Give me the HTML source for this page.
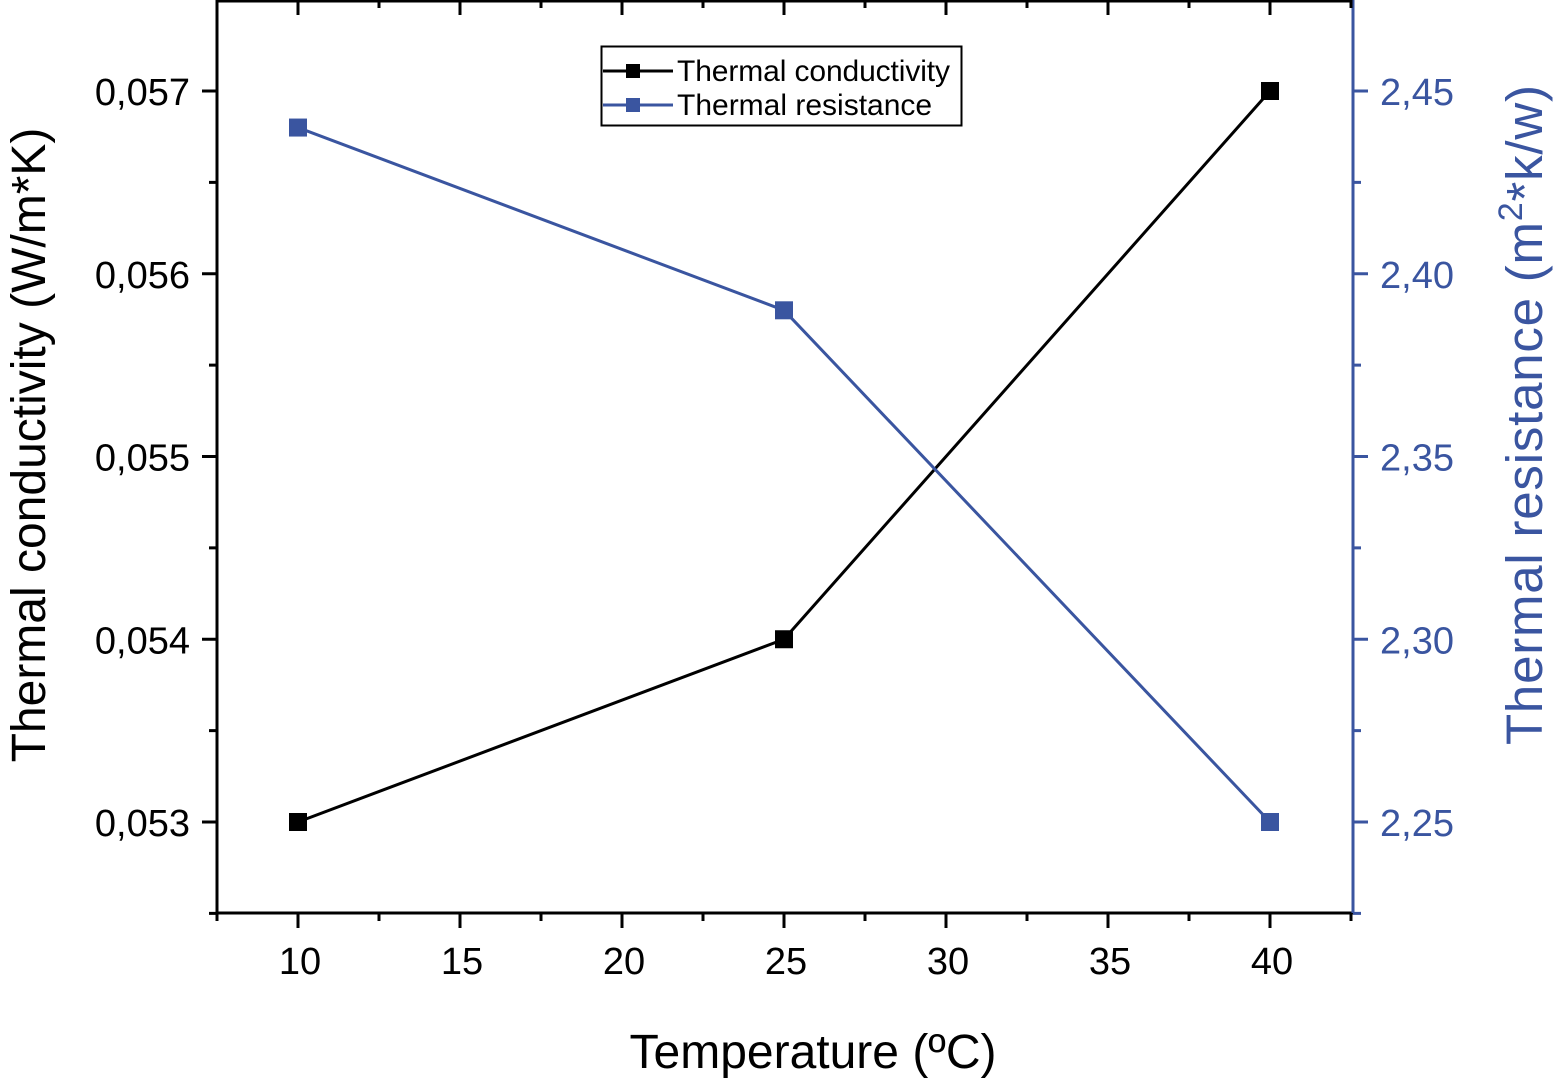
<!DOCTYPE html>
<html><head><meta charset="utf-8"><style>
body{margin:0;background:#fff}
svg{display:block;font-family:"Liberation Sans",Arial,sans-serif}
</style></head><body>
<svg id="chart" width="1553" height="1078" viewBox="0 0 1553 1078" xmlns="http://www.w3.org/2000/svg">
<g id="axes"></g>
<g id="series"></g>
<text x="813" y="1068" font-size="48" text-anchor="middle">Temperature (ºC)</text>
<text transform="translate(45,445) rotate(-90)" font-size="48" text-anchor="middle">Thermal conductivity (W/m*K)</text>
<text transform="translate(1542,415) rotate(-90)" font-size="51" text-anchor="middle" fill="#3a55a0" textLength="660">Thermal resistance (m<tspan font-size="34" dy="-20">2</tspan><tspan dy="20">*k/w)</tspan></text>
<g>
<rect x="601.5" y="46.5" width="360" height="79" fill="#fff" stroke="#000" stroke-width="2"/>
<line x1="603" y1="71" x2="673" y2="71" stroke="#000" stroke-width="3"/>
<rect x="626" y="64" width="14" height="14" fill="#000"/>
<text x="677" y="81" font-size="30" textLength="273">Thermal conductivity</text>
<line x1="603" y1="105" x2="673" y2="105" stroke="#3a55a0" stroke-width="3"/>
<rect x="626" y="98" width="14" height="14" fill="#3a55a0"/>
<text x="677" y="115" font-size="30">Thermal resistance</text>
</g>
</svg>
<script>
const temps=[10,25,40];
const conductivity=[0.053,0.054,0.057];
const resistance=[2.44,2.39,2.25];
const xTicks=[10,15,20,25,30,35,40];
const yLeftTicks=[0.053,0.054,0.055,0.056,0.057];
const yRightTicks=[2.25,2.30,2.35,2.40,2.45];
const NS="http://www.w3.org/2000/svg";
const L=217,R=1353,T=0,B=913;
const xs=v=>298+(v-10)*(1270-298)/30;
const yl=v=>822-(v-0.053)*(822-91)/0.004;
const yr=v=>822-(v-2.25)*(822-91)/0.2;
const BLUE="#3a55a0";
const axes=document.getElementById('axes'),ser=document.getElementById('series');
function mk(tag,attrs,parent){const e=document.createElementNS(NS,tag);for(const k in attrs)e.setAttribute(k,attrs[k]);parent.appendChild(e);return e;}
function line(x1,y1,x2,y2,c,w,p){return mk('line',{x1,y1,x2,y2,stroke:c,'stroke-width':w},p);}
let e;
e=line(L,B,R,B,'#000',3,axes);
e=line(L,T+1,R,T+1,'#000',3,axes);
e=line(L,T,L,B,'#000',3,axes);
e=line(R,T,R,B,BLUE,3,axes);
for(let v=7.5;v<=42.5;v+=2.5){const x=xs(v);const major=Math.abs(v%5)<1e-6;
 line(x,B,x,B+(major?15:8),'#000',3,axes);line(x,T,x,T+(major?15:8),'#000',3,axes);}
xTicks.forEach(v=>{e=mk('text',{x:xs(v)+2,y:974,'font-size':38,'text-anchor':'middle'},axes);e.textContent=v;
 });
for(let i=0;i<=10;i++){const v=0.0525+i*0.0005;const y=yl(v);if(y<T)continue;const major=i%2==1;
 line(L,y,L-(major?15:8),y,'#000',3,axes);}
yLeftTicks.forEach(v=>{e=mk('text',{x:190,y:yl(v)+14,'font-size':38,'text-anchor':'end'},axes);e.textContent=v.toFixed(3).replace('.',',');
 });
for(let i=0;i<=10;i++){const v=2.225+i*0.025;const y=yr(v);if(y<T)continue;const major=i%2==1;
 line(R,y,R+(major?15:8),y,BLUE,3,axes);}
yRightTicks.forEach(v=>{e=mk('text',{x:1380,y:yr(v)+14,'font-size':38,fill:BLUE},axes);e.textContent=v.toFixed(2).replace('.',',');
 });
function series(vals,yf,c,name){
 e=mk('polyline',{points:temps.map((t,i)=>xs(t)+','+yf(vals[i])).join(' '),fill:'none',stroke:c,'stroke-width':3},ser);
 
 temps.forEach((t,i)=>{e=mk('rect',{x:xs(t)-9,y:yf(vals[i])-9,width:18,height:18,fill:c},ser);
  });
}
series(conductivity,yl,'#000','conductivity');
series(resistance,yr,BLUE,'resistance');
</script>
</body></html>
